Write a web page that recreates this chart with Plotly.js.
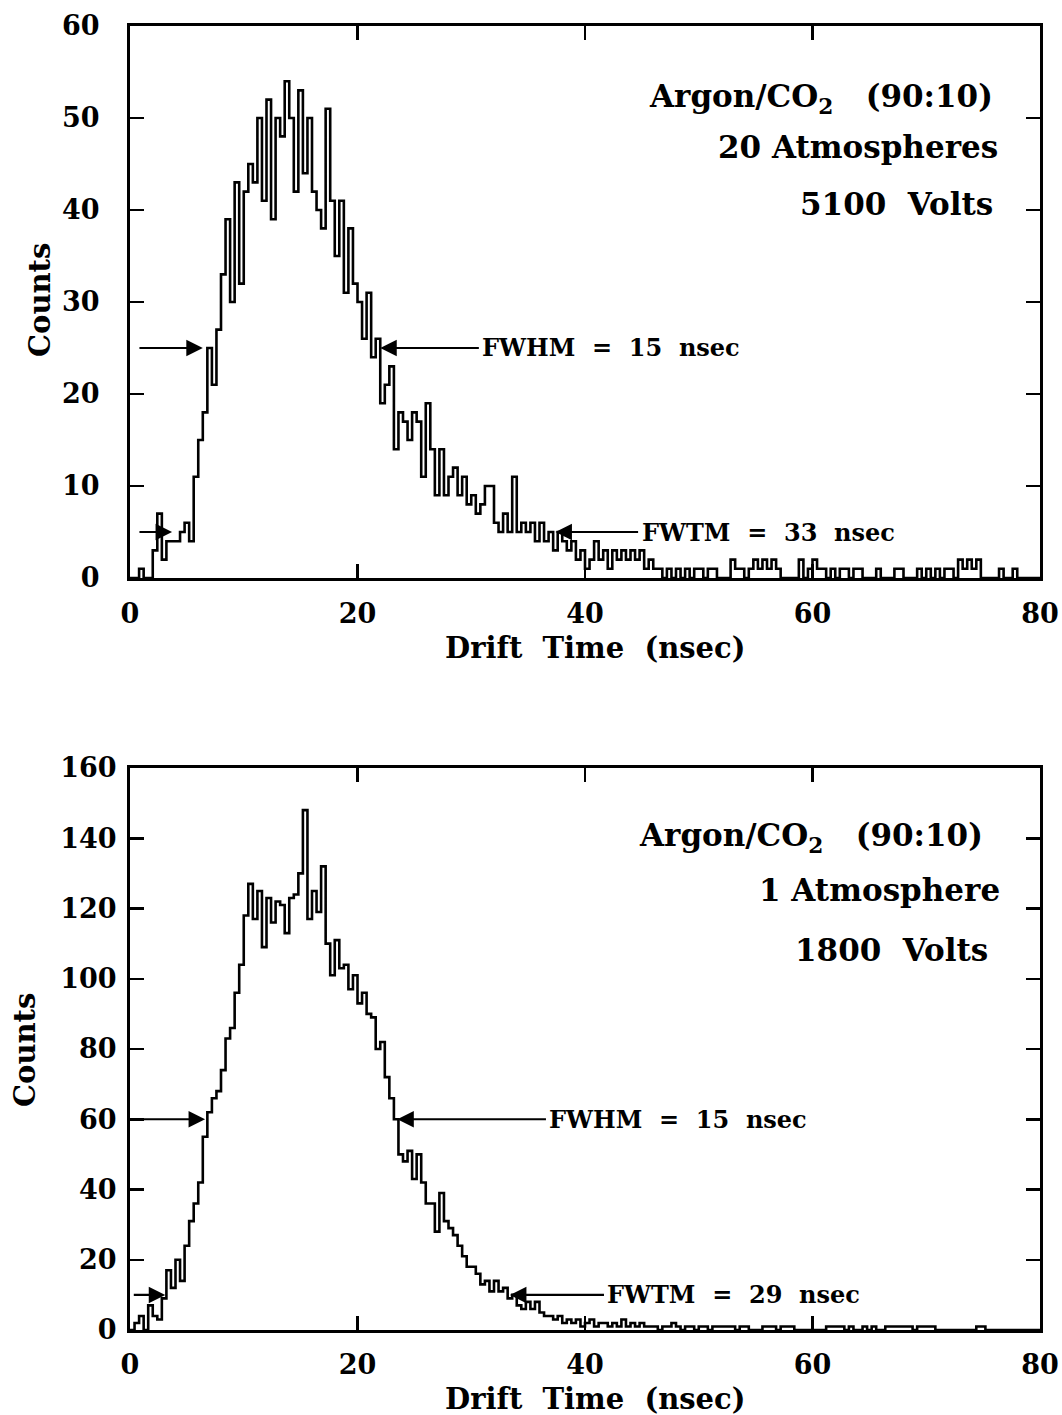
<!DOCTYPE html>
<html>
<head>
<meta charset="utf-8">
<script src="https://cdn.plot.ly/plotly-3.0.1.min.js"></script>
<style>
  html, body { margin: 0; padding: 0; background: #fff; }
  #chart { width: 1062px; height: 1415px; }
</style>
</head>
<body>
<div id="chart"></div>
<script>
// Drift-time histograms, 0.4 ns bins from 0 to 80 ns
const BIN_WIDTH = 0.4;

// 20 atm, 5100 V
const countsHighPressure = [
  0,0,1,0,0,3,7,2,4,4,
  4,5,6,4,11,15,18,25,21,27,
  33,39,30,43,32,42,45,43,50,41,
  52,39,50,48,54,50,42,53,44,50,
  42,40,38,51,41,35,41,31,38,32,
  30,26,31,24,26,19,21,23,14,18,
  17,15,18,17,11,19,14,9,14,9,
  11,12,9,11,8,9,7,8,10,10,
  6,5,7,5,11,5,6,5,6,4,
  6,4,5,3,5,4,3,4,2,3,
  1,2,4,2,3,1,3,2,3,2,
  3,2,3,1,2,1,1,0,1,0,
  1,0,1,0,1,1,0,1,1,0,
  0,0,2,1,1,0,1,2,1,2,
  1,2,1,0,0,0,0,2,0,1,
  2,1,1,0,1,0,1,1,0,1,
  1,0,0,0,1,0,0,0,1,1,
  0,0,0,1,0,1,0,1,0,1,
  1,0,2,1,2,1,2,0,0,0,
  0,1,0,0,1,0,0,0,0,0
];

// 1 atm, 1800 V
const countsLowPressure = [
  0,2,4,0,7,4,3,9,17,12,
  20,14,24,31,36,42,55,62,66,68,
  74,83,86,96,104,118,127,117,125,109,
  123,116,122,121,113,123,124,130,148,117,
  125,119,132,110,101,111,103,104,97,101,
  93,96,90,89,80,82,72,66,60,50,
  48,51,43,50,42,36,36,28,39,31,
  29,27,24,21,18,18,16,13,14,11,
  14,11,12,9,10,7,6,8,6,8,
  5,4,4,3,4,2,3,2,3,1,
  2,3,1,2,2,1,2,1,3,1,
  2,1,2,1,1,1,0,1,1,2,
  1,0,1,1,0,1,1,0,1,1,
  1,1,1,0,1,1,0,0,0,1,
  1,1,0,1,1,1,0,0,0,0,
  0,0,0,1,1,1,1,0,1,0,
  0,1,0,1,0,0,1,1,1,1,
  1,1,0,1,1,1,1,0,0,0,
  0,0,0,0,0,0,1,1,0,0,
  0,0,0,0,0,0,0,0,0,0
];

// Width markers: level, left arrow tip, right arrow tip, label start, label
const widthsHigh = [
  {level: 25, leftTip: 6.4, rightTip: 22.0, labelAt: 30.8, label: 'FWHM\u00a0\u00a0=\u00a0\u00a015\u00a0\u00a0nsec'},
  {level: 5, leftTip: 3.7, rightTip: 37.4, labelAt: 44.8, label: 'FWTM\u00a0\u00a0=\u00a0\u00a033\u00a0\u00a0nsec'}
];
const widthsLow = [
  {level: 60, leftTip: 6.6, rightTip: 23.5, labelAt: 36.7, label: 'FWHM\u00a0\u00a0=\u00a0\u00a015\u00a0\u00a0nsec'},
  {level: 10, leftTip: 3.1, rightTip: 33.4, labelAt: 41.8, label: 'FWTM\u00a0\u00a0=\u00a0\u00a029\u00a0\u00a0nsec'}
];

const conditionsHigh = ['Argon/CO<sub>2</sub>\u00a0\u00a0\u00a0(90:10)', '20\u00a0Atmospheres', '5100\u00a0\u00a0Volts'];
const conditionsLow = ['Argon/CO<sub>2</sub>\u00a0\u00a0\u00a0(90:10)', '1\u00a0Atmosphere', '1800\u00a0\u00a0Volts'];

const X_TITLE = 'Drift\u00a0\u00a0Time\u00a0\u00a0(nsec)';
const Y_TITLE = 'Counts';

const FONT = 'DejaVu Serif, Liberation Serif, serif';
const W = 1062, H = 1415;
const px = v => v / W;
const py = v => 1 - v / H;

function stepTrace(counts, xa, ya) {
  const x = counts.map((_, i) => i * BIN_WIDTH);
  x.push(counts.length * BIN_WIDTH);
  const y = counts.concat([counts[counts.length - 1]]);
  return {
    type: 'scatter', mode: 'lines', x, y, xaxis: xa, yaxis: ya,
    line: {shape: 'hv', color: '#000', width: 2.6},
    hoverinfo: 'skip', showlegend: false
  };
}

function axisBase(extra) {
  return Object.assign({
    showline: true, linecolor: '#000', linewidth: 3, mirror: 'ticks',
    ticks: 'inside', ticklen: 14, tickwidth: 2.5, tickcolor: '#000',
    showgrid: false, zeroline: false,
    tickfont: {family: FONT, size: 27, color: '#000', weight: 'bold'}
  }, extra);
}

function widthAnnotations(list, xr, yr, leftStart) {
  const out = [];
  list.forEach(w => {
    const arrow = {
      xref: xr, yref: yr, axref: xr, ayref: yr, y: w.level, ay: w.level,
      text: '', showarrow: true, arrowhead: 2, arrowsize: 1.5, arrowwidth: 2.2, arrowcolor: '#000'
    };
    out.push(Object.assign({}, arrow, {x: w.leftTip, ax: leftStart}));
    out.push(Object.assign({}, arrow, {x: w.rightTip, ax: w.labelAt}));
    out.push({
      xref: xr, yref: yr, x: w.labelAt, y: w.level, xanchor: 'left', yanchor: 'middle',
      text: w.label, showarrow: false,
      font: {family: FONT, size: 24, color: '#000', weight: 'bold'}
    });
  });
  return out;
}

function conditionAnnotations(lines, xr, yr, xs, ys) {
  return lines.map((t, i) => ({
    xref: xr, yref: yr, x: xs[i], y: ys[i], xanchor: 'right', yanchor: 'middle',
    text: t, showarrow: false,
    font: {family: FONT, size: 31, color: '#000', weight: 'bold'}
  }));
}

const titleFont = {family: FONT, size: 29, color: '#000', weight: 'bold'};
const titleAnnotations = [
  {xref: 'paper', yref: 'paper', x: px(595), y: py(648), text: X_TITLE, showarrow: false, font: titleFont, xanchor: 'center', yanchor: 'middle'},
  {xref: 'paper', yref: 'paper', x: px(595), y: py(1399), text: X_TITLE, showarrow: false, font: titleFont, xanchor: 'center', yanchor: 'middle'},
  {xref: 'paper', yref: 'paper', x: px(40), y: py(300), text: Y_TITLE, textangle: -90, showarrow: false, font: titleFont, xanchor: 'center', yanchor: 'middle'},
  {xref: 'paper', yref: 'paper', x: px(25), y: py(1050), text: Y_TITLE, textangle: -90, showarrow: false, font: titleFont, xanchor: 'center', yanchor: 'middle'}
];

const layout = {
  width: W, height: H,
  margin: {l: 0, r: 0, t: 0, b: 0},
  paper_bgcolor: '#fff', plot_bgcolor: '#fff',
  showlegend: false,
  xaxis: axisBase({domain: [px(130), px(1040)], range: [0, 80], tick0: 0, dtick: 20, anchor: 'y', ticklabelstandoff: 10}),
  yaxis: axisBase({domain: [py(578), py(26)], range: [0, 60], tick0: 0, dtick: 10, anchor: 'x', ticklabelstandoff: 22}),
  xaxis2: axisBase({domain: [px(130), px(1040)], range: [0, 80], tick0: 0, dtick: 20, anchor: 'y2', ticklabelstandoff: 9}),
  yaxis2: axisBase({domain: [py(1330), py(768)], range: [0, 160], tick0: 0, dtick: 20, anchor: 'x2', ticklabelstandoff: 5}),
  annotations: [].concat(
    titleAnnotations,
    widthAnnotations(widthsHigh, 'x', 'y', 0.7),
    widthAnnotations(widthsLow, 'x2', 'y2', 0.2),
    conditionAnnotations(conditionsHigh, 'x', 'y', [76.0, 76.5, 76.0], [52.1, 46.9, 40.6]),
    conditionAnnotations(conditionsLow, 'x2', 'y2', [75.2, 76.7, 75.6], [140.2, 125.4, 108.3])
  )
};

Plotly.newPlot('chart', [
  stepTrace(countsHighPressure, 'x', 'y'),
  stepTrace(countsLowPressure, 'x2', 'y2')
], layout, {staticPlot: true, displayModeBar: false});
</script>
</body>
</html>
